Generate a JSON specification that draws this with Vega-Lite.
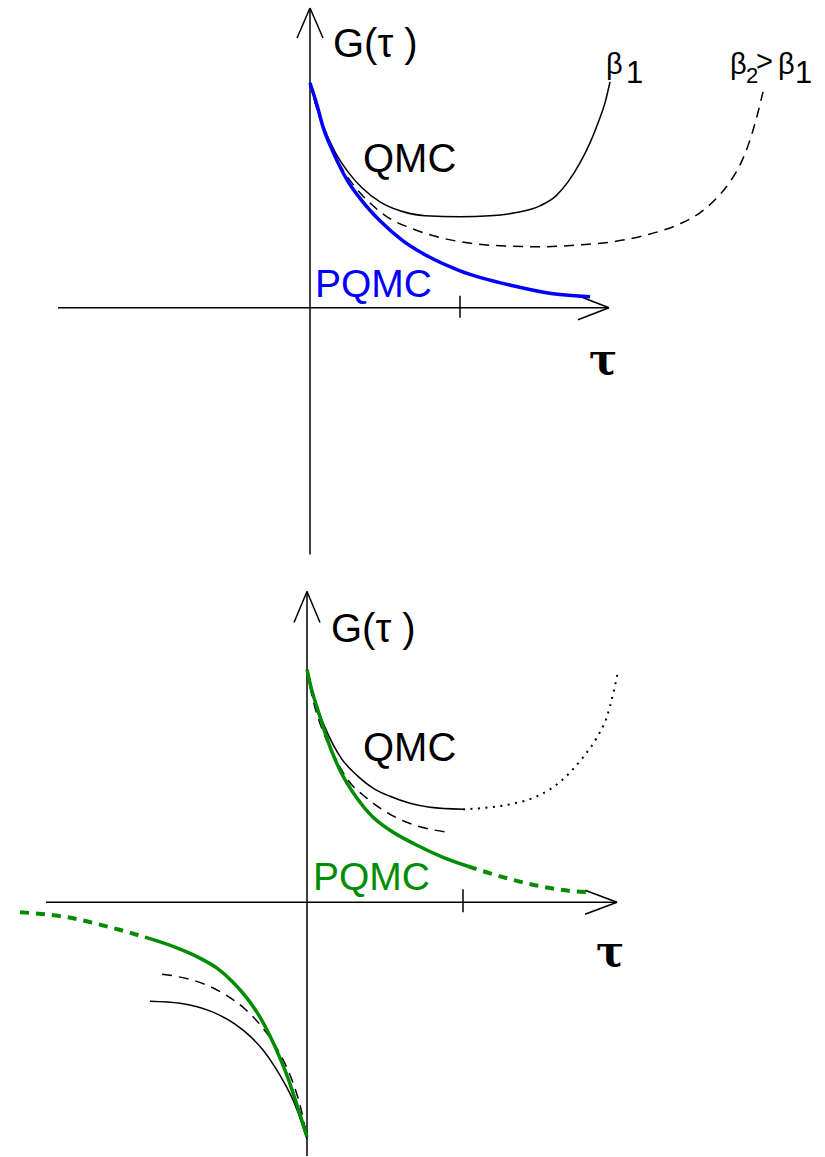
{
  "$schema": "https://vega.github.io/schema/vega-lite/v6.json",
  "width": 825,
  "height": 1157,
  "autosize": {"type": "fit", "contains": "padding"},
  "padding": 0,
  "background": "white",
  "config": {"view": {"stroke": null}},
  "datasets": {
    "axes": [
      {"part": "top G axis", "x": 310, "y": 555, "x2": 310, "y2": 8},
      {"part": "top G arrow", "x": 297, "y": 38, "x2": 310, "y2": 8},
      {"part": "top G arrow", "x": 323, "y": 38, "x2": 310, "y2": 8},
      {"part": "top tau axis", "x": 58, "y": 308, "x2": 609, "y2": 308},
      {"part": "top tau arrow", "x": 578, "y": 296, "x2": 609, "y2": 308},
      {"part": "top tau arrow", "x": 578, "y": 320, "x2": 609, "y2": 308},
      {"part": "top tick", "x": 460, "y": 296, "x2": 460, "y2": 318},
      {"part": "bottom G axis", "x": 307, "y": 1157, "x2": 307, "y2": 592},
      {"part": "bottom G arrow", "x": 294, "y": 623, "x2": 307, "y2": 592},
      {"part": "bottom G arrow", "x": 320, "y": 623, "x2": 307, "y2": 592},
      {"part": "bottom tau axis", "x": 46, "y": 903, "x2": 617, "y2": 903},
      {"part": "bottom tau arrow", "x": 585, "y": 891, "x2": 617, "y2": 903},
      {"part": "bottom tau arrow", "x": 585, "y": 915, "x2": 617, "y2": 903},
      {"part": "bottom tick", "x": 463, "y": 890, "x2": 463, "y2": 913}
    ],
    "curves": [
      {"curve": "QMC beta1", "x": 310, "y": 83},
      {"curve": "QMC beta1", "x": 316, "y": 105},
      {"curve": "QMC beta1", "x": 324, "y": 128},
      {"curve": "QMC beta1", "x": 335, "y": 152},
      {"curve": "QMC beta1", "x": 348, "y": 172},
      {"curve": "QMC beta1", "x": 362, "y": 188},
      {"curve": "QMC beta1", "x": 380, "y": 202},
      {"curve": "QMC beta1", "x": 400, "y": 211},
      {"curve": "QMC beta1", "x": 425, "y": 216},
      {"curve": "QMC beta1", "x": 460, "y": 217},
      {"curve": "QMC beta1", "x": 490, "y": 216},
      {"curve": "QMC beta1", "x": 515, "y": 213},
      {"curve": "QMC beta1", "x": 540, "y": 206},
      {"curve": "QMC beta1", "x": 556, "y": 196},
      {"curve": "QMC beta1", "x": 568, "y": 182},
      {"curve": "QMC beta1", "x": 580, "y": 163},
      {"curve": "QMC beta1", "x": 590, "y": 143},
      {"curve": "QMC beta1", "x": 598, "y": 123},
      {"curve": "QMC beta1", "x": 605, "y": 103},
      {"curve": "QMC beta1", "x": 610, "y": 82},

      {"curve": "QMC beta2", "x": 310, "y": 83},
      {"curve": "QMC beta2", "x": 316, "y": 106},
      {"curve": "QMC beta2", "x": 325, "y": 133},
      {"curve": "QMC beta2", "x": 340, "y": 165},
      {"curve": "QMC beta2", "x": 355, "y": 187},
      {"curve": "QMC beta2", "x": 372, "y": 205},
      {"curve": "QMC beta2", "x": 387, "y": 217},
      {"curve": "QMC beta2", "x": 410, "y": 228},
      {"curve": "QMC beta2", "x": 430, "y": 235},
      {"curve": "QMC beta2", "x": 467, "y": 243},
      {"curve": "QMC beta2", "x": 500, "y": 246},
      {"curve": "QMC beta2", "x": 540, "y": 247},
      {"curve": "QMC beta2", "x": 580, "y": 245},
      {"curve": "QMC beta2", "x": 613, "y": 242},
      {"curve": "QMC beta2", "x": 647, "y": 235},
      {"curve": "QMC beta2", "x": 680, "y": 224},
      {"curve": "QMC beta2", "x": 700, "y": 213},
      {"curve": "QMC beta2", "x": 715, "y": 200},
      {"curve": "QMC beta2", "x": 730, "y": 182},
      {"curve": "QMC beta2", "x": 741, "y": 163},
      {"curve": "QMC beta2", "x": 749, "y": 143},
      {"curve": "QMC beta2", "x": 756, "y": 120},
      {"curve": "QMC beta2", "x": 763, "y": 92},

      {"curve": "PQMC top", "x": 310, "y": 83},
      {"curve": "PQMC top", "x": 317, "y": 105},
      {"curve": "PQMC top", "x": 323, "y": 127},
      {"curve": "PQMC top", "x": 333, "y": 152},
      {"curve": "PQMC top", "x": 347, "y": 180},
      {"curve": "PQMC top", "x": 362, "y": 201},
      {"curve": "PQMC top", "x": 380, "y": 221},
      {"curve": "PQMC top", "x": 403, "y": 241},
      {"curve": "PQMC top", "x": 427, "y": 256},
      {"curve": "PQMC top", "x": 460, "y": 271},
      {"curve": "PQMC top", "x": 513, "y": 286},
      {"curve": "PQMC top", "x": 553, "y": 294},
      {"curve": "PQMC top", "x": 590, "y": 297},

      {"curve": "QMC lower", "x": 307, "y": 670},
      {"curve": "QMC lower", "x": 312, "y": 690},
      {"curve": "QMC lower", "x": 318, "y": 710},
      {"curve": "QMC lower", "x": 325, "y": 728},
      {"curve": "QMC lower", "x": 333, "y": 745},
      {"curve": "QMC lower", "x": 342, "y": 760},
      {"curve": "QMC lower", "x": 357, "y": 776},
      {"curve": "QMC lower", "x": 375, "y": 790},
      {"curve": "QMC lower", "x": 390, "y": 797},
      {"curve": "QMC lower", "x": 410, "y": 804},
      {"curve": "QMC lower", "x": 430, "y": 808},
      {"curve": "QMC lower", "x": 463, "y": 810},

      {"curve": "QMC lower ext", "x": 463, "y": 810},
      {"curve": "QMC lower ext", "x": 490, "y": 808},
      {"curve": "QMC lower ext", "x": 510, "y": 805},
      {"curve": "QMC lower ext", "x": 537, "y": 797},
      {"curve": "QMC lower ext", "x": 563, "y": 780},
      {"curve": "QMC lower ext", "x": 583, "y": 758},
      {"curve": "QMC lower ext", "x": 597, "y": 738},
      {"curve": "QMC lower ext", "x": 607, "y": 717},
      {"curve": "QMC lower ext", "x": 613, "y": 695},
      {"curve": "QMC lower ext", "x": 618, "y": 672},

      {"curve": "QMC lower dashed", "x": 307, "y": 670},
      {"curve": "QMC lower dashed", "x": 311, "y": 692},
      {"curve": "QMC lower dashed", "x": 317, "y": 715},
      {"curve": "QMC lower dashed", "x": 325, "y": 737},
      {"curve": "QMC lower dashed", "x": 334, "y": 756},
      {"curve": "QMC lower dashed", "x": 346, "y": 778},
      {"curve": "QMC lower dashed", "x": 367, "y": 799},
      {"curve": "QMC lower dashed", "x": 390, "y": 815},
      {"curve": "QMC lower dashed", "x": 415, "y": 826},
      {"curve": "QMC lower dashed", "x": 449, "y": 833},

      {"curve": "PQMC lower", "x": 307, "y": 670},
      {"curve": "PQMC lower", "x": 311, "y": 688},
      {"curve": "PQMC lower", "x": 317, "y": 708},
      {"curve": "PQMC lower", "x": 323, "y": 727},
      {"curve": "PQMC lower", "x": 331, "y": 750},
      {"curve": "PQMC lower", "x": 340, "y": 771},
      {"curve": "PQMC lower", "x": 357, "y": 799},
      {"curve": "PQMC lower", "x": 372, "y": 817},
      {"curve": "PQMC lower", "x": 390, "y": 831},
      {"curve": "PQMC lower", "x": 415, "y": 845},
      {"curve": "PQMC lower", "x": 443, "y": 858},
      {"curve": "PQMC lower", "x": 468, "y": 867},

      {"curve": "PQMC lower ext", "x": 468, "y": 867},
      {"curve": "PQMC lower ext", "x": 477, "y": 870},
      {"curve": "PQMC lower ext", "x": 507, "y": 879},
      {"curve": "PQMC lower ext", "x": 540, "y": 887},
      {"curve": "PQMC lower ext", "x": 573, "y": 892},
      {"curve": "PQMC lower ext", "x": 592, "y": 893},

      {"curve": "QMC negative", "x": 150, "y": 1002},
      {"curve": "QMC negative", "x": 180, "y": 1004},
      {"curve": "QMC negative", "x": 213, "y": 1013},
      {"curve": "QMC negative", "x": 235, "y": 1025},
      {"curve": "QMC negative", "x": 250, "y": 1037},
      {"curve": "QMC negative", "x": 263, "y": 1051},
      {"curve": "QMC negative", "x": 275, "y": 1068},
      {"curve": "QMC negative", "x": 285, "y": 1085},
      {"curve": "QMC negative", "x": 293, "y": 1101},
      {"curve": "QMC negative", "x": 300, "y": 1119},
      {"curve": "QMC negative", "x": 307, "y": 1140},

      {"curve": "QMC negative dashed", "x": 162, "y": 975},
      {"curve": "QMC negative dashed", "x": 175, "y": 977},
      {"curve": "QMC negative dashed", "x": 196, "y": 982},
      {"curve": "QMC negative dashed", "x": 221, "y": 993},
      {"curve": "QMC negative dashed", "x": 244, "y": 1009},
      {"curve": "QMC negative dashed", "x": 262, "y": 1028},
      {"curve": "QMC negative dashed", "x": 279, "y": 1053},
      {"curve": "QMC negative dashed", "x": 292, "y": 1081},
      {"curve": "QMC negative dashed", "x": 300, "y": 1106},
      {"curve": "QMC negative dashed", "x": 307, "y": 1138},

      {"curve": "PQMC negative ext", "x": 20, "y": 913},
      {"curve": "PQMC negative ext", "x": 67, "y": 918},
      {"curve": "PQMC negative ext", "x": 110, "y": 928},
      {"curve": "PQMC negative ext", "x": 145, "y": 938},

      {"curve": "PQMC negative", "x": 145, "y": 938},
      {"curve": "PQMC negative", "x": 175, "y": 948},
      {"curve": "PQMC negative", "x": 200, "y": 959},
      {"curve": "PQMC negative", "x": 217, "y": 969},
      {"curve": "PQMC negative", "x": 233, "y": 983},
      {"curve": "PQMC negative", "x": 247, "y": 999},
      {"curve": "PQMC negative", "x": 260, "y": 1018},
      {"curve": "PQMC negative", "x": 270, "y": 1037},
      {"curve": "PQMC negative", "x": 280, "y": 1059},
      {"curve": "PQMC negative", "x": 288, "y": 1079},
      {"curve": "PQMC negative", "x": 296, "y": 1103},
      {"curve": "PQMC negative", "x": 302, "y": 1122},
      {"curve": "PQMC negative", "x": 307, "y": 1138}
    ],
    "labels": [
      {"role": "title", "text": "G(τ )", "x": 333, "y": 57},
      {"role": "title", "text": "QMC", "x": 363, "y": 172},
      {"role": "title", "text": "G(τ )", "x": 331, "y": 643},
      {"role": "title", "text": "QMC", "x": 363, "y": 762},
      {"role": "pqmc top", "text": "PQMC", "x": 315, "y": 297},
      {"role": "pqmc bottom", "text": "PQMC", "x": 313, "y": 891},
      {"role": "beta", "text": "β", "x": 606, "y": 74},
      {"role": "beta", "text": "β", "x": 730, "y": 74},
      {"role": "beta", "text": "β", "x": 778, "y": 74},
      {"role": "beta", "text": ">", "x": 756, "y": 71},
      {"role": "index", "text": "1", "x": 626, "y": 83},
      {"role": "index", "text": "1", "x": 795, "y": 83},
      {"role": "index small", "text": "2", "x": 746, "y": 83},
      {"role": "tau", "text": "τ", "x": 589, "y": 374},
      {"role": "tau", "text": "τ", "x": 596, "y": 967}
    ]
  },
  "encoding": {
    "x": {"field": "x", "type": "quantitative", "scale": {"domain": [0, 825], "nice": false, "zero": false}, "axis": null},
    "y": {"field": "y", "type": "quantitative", "scale": {"domain": [0, 1157], "reverse": true, "nice": false, "zero": false}, "axis": null}
  },
  "layer": [
    {
      "data": {"name": "axes"},
      "mark": {"type": "rule", "color": "black", "strokeWidth": 1.5},
      "encoding": {"x2": {"field": "x2"}, "y2": {"field": "y2"}}
    },
    {
      "data": {"name": "curves"},
      "transform": [{"filter": {"field": "curve", "oneOf": ["QMC beta1", "QMC lower", "QMC negative"]}}],
      "mark": {"type": "line", "interpolate": "monotone", "color": "black", "strokeWidth": 1.5},
      "encoding": {"detail": {"field": "curve"}}
    },
    {
      "data": {"name": "curves"},
      "transform": [{"filter": {"field": "curve", "oneOf": ["QMC beta2", "QMC lower dashed", "QMC negative dashed"]}}],
      "mark": {"type": "line", "interpolate": "monotone", "color": "black", "strokeWidth": 1.5, "strokeDash": [10, 7]},
      "encoding": {"detail": {"field": "curve"}}
    },
    {
      "data": {"name": "curves"},
      "transform": [{"filter": {"field": "curve", "oneOf": ["QMC lower ext"]}}],
      "mark": {"type": "line", "interpolate": "monotone", "color": "black", "strokeWidth": 2, "strokeDash": [2, 5.5]},
      "encoding": {"detail": {"field": "curve"}}
    },
    {
      "data": {"name": "curves"},
      "transform": [{"filter": {"field": "curve", "oneOf": ["PQMC top"]}}],
      "mark": {"type": "line", "interpolate": "monotone", "color": "#0000ff", "strokeWidth": 3.5},
      "encoding": {"detail": {"field": "curve"}}
    },
    {
      "data": {"name": "curves"},
      "transform": [{"filter": {"field": "curve", "oneOf": ["PQMC lower", "PQMC negative"]}}],
      "mark": {"type": "line", "interpolate": "monotone", "color": "#008c00", "strokeWidth": 3.5},
      "encoding": {"detail": {"field": "curve"}}
    },
    {
      "data": {"name": "curves"},
      "transform": [{"filter": {"field": "curve", "oneOf": ["PQMC lower ext", "PQMC negative ext"]}}],
      "mark": {"type": "line", "interpolate": "monotone", "color": "#008c00", "strokeWidth": 4, "strokeDash": [9, 7]},
      "encoding": {"detail": {"field": "curve"}}
    },
    {
      "data": {"name": "labels"},
      "transform": [{"filter": "datum.role === 'title'"}],
      "mark": {"type": "text", "font": "Liberation Sans", "fontSize": 40, "align": "left", "baseline": "alphabetic", "color": "black"},
      "encoding": {"text": {"field": "text"}}
    },
    {
      "data": {"name": "labels"},
      "transform": [{"filter": "datum.role === 'pqmc top'"}],
      "mark": {"type": "text", "font": "Liberation Sans", "fontSize": 39, "align": "left", "baseline": "alphabetic", "color": "#0000ff"},
      "encoding": {"text": {"field": "text"}}
    },
    {
      "data": {"name": "labels"},
      "transform": [{"filter": "datum.role === 'pqmc bottom'"}],
      "mark": {"type": "text", "font": "Liberation Sans", "fontSize": 39, "align": "left", "baseline": "alphabetic", "color": "#008c00"},
      "encoding": {"text": {"field": "text"}}
    },
    {
      "data": {"name": "labels"},
      "transform": [{"filter": "datum.role === 'beta'"}],
      "mark": {"type": "text", "font": "Liberation Sans", "fontSize": 29, "align": "left", "baseline": "alphabetic", "color": "black"},
      "encoding": {"text": {"field": "text"}}
    },
    {
      "data": {"name": "labels"},
      "transform": [{"filter": "datum.role === 'index'"}],
      "mark": {"type": "text", "font": "Liberation Sans", "fontSize": 31, "align": "left", "baseline": "alphabetic", "color": "black"},
      "encoding": {"text": {"field": "text"}}
    },
    {
      "data": {"name": "labels"},
      "transform": [{"filter": "datum.role === 'index small'"}],
      "mark": {"type": "text", "font": "Liberation Sans", "fontSize": 22, "align": "left", "baseline": "alphabetic", "color": "black"},
      "encoding": {"text": {"field": "text"}}
    },
    {
      "data": {"name": "labels"},
      "transform": [{"filter": "datum.role === 'tau'"}],
      "mark": {"type": "text", "font": "DejaVu Serif", "fontSize": 42, "fontWeight": "bold", "align": "left", "baseline": "alphabetic", "color": "black"},
      "encoding": {"text": {"field": "text"}}
    }
  ]
}
